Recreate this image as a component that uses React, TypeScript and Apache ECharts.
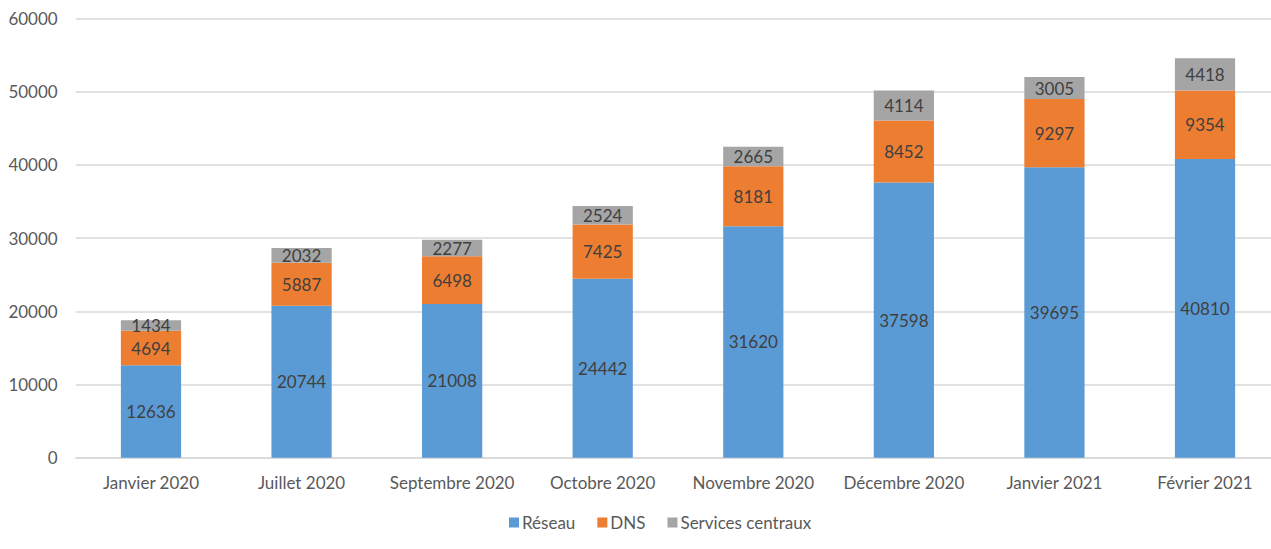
import React, { useEffect, useRef } from "react";
import * as echarts from "echarts";

const categories = [
  "Janvier 2020",
  "Juillet 2020",
  "Septembre 2020",
  "Octobre 2020",
  "Novembre 2020",
  "Décembre 2020",
  "Janvier 2021",
  "Février 2021",
];
const reseau = [12636, 20744, 21008, 24442, 31620, 37598, 39695, 40810];
const dns = [4694, 5887, 6498, 7425, 8181, 8452, 9297, 9354];
const services = [1434, 2032, 2277, 2524, 2665, 4114, 3005, 4418];

const FONT = "Lato, 'Liberation Sans', sans-serif";
const FS = 17;

export default function App() {
  const ref = useRef<HTMLDivElement>(null);
  useEffect(() => {
    if (!ref.current) return;
    const chart = echarts.init(ref.current, undefined, { renderer: "svg" });
    const label = {
      show: true,
      position: "inside" as const,
      color: "#404040",
      fontSize: FS,
      fontFamily: FONT,
    };
    const mk = (name: string, data: number[], color: string) => ({
      name,
      type: "bar" as const,
      stack: "total",
      data,
      barWidth: "40%",
      itemStyle: { color },
      label,
      emphasis: { disabled: true },
    });
    chart.setOption({
      animation: false,
      textStyle: { fontFamily: FONT },
      grid: { left: 75.7, top: 18.5, width: 1204.6, height: 439.2, containLabel: false },
      legend: {
        bottom: 13,
        left: 504,
        itemWidth: 10,
        itemHeight: 10,
        itemGap: 22,
        icon: "rect",
        textStyle: { color: "#595959", fontSize: FS, fontFamily: FONT, padding: [0, 0, 0, -2] },
        data: ["Réseau", "DNS", "Services centraux"],
      },
      xAxis: {
        type: "category",
        data: categories,
        axisLine: { lineStyle: { color: "#D9D9D9", width: 1.5 } },
        axisTick: { show: false },
        axisLabel: { color: "#595959", fontSize: FS, fontFamily: FONT, margin: 16, interval: 0 },
      },
      yAxis: {
        type: "value",
        min: 0,
        max: 60000,
        interval: 10000,
        axisLine: { show: false },
        axisTick: { show: false },
        splitLine: { lineStyle: { color: "#D9D9D9", width: 1.5 } },
        axisLabel: {
          color: "#595959",
          fontSize: FS,
          fontFamily: FONT,
          margin: 18,
          formatter: (v: number) => String(v),
        },
      },
      series: [
        mk("Réseau", reseau, "#5B9BD5"),
        mk("DNS", dns, "#ED7D31"),
        mk("Services centraux", services, "#A5A5A5"),
      ],
    });
    return () => chart.dispose();
  }, []);
  return (
    <div style={{ position: "fixed", left: 0, top: 0, width: 1271, height: 549, overflow: "hidden", background: "#fff" }}>
      <div ref={ref} style={{ width: 1290, height: 549 }} />
    </div>
  );
}
